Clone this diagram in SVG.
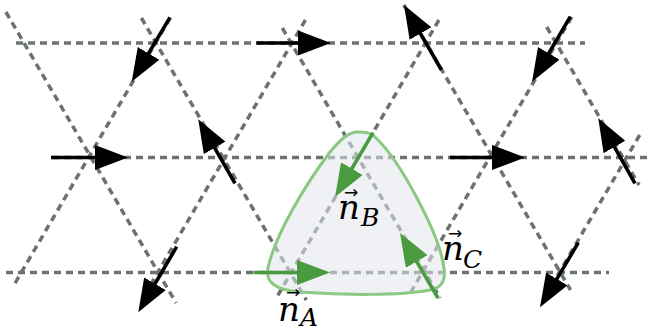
<svg xmlns="http://www.w3.org/2000/svg" width="652" height="331" viewBox="0 0 652 331">
<defs>
<style>
.dash{stroke:#6a7272;stroke-width:3.5;stroke-dasharray:7 5;fill:none}
.blk{stroke:#000;stroke-width:3.6;fill:none;marker-end:url(#hb)}
.grn{stroke:#4a9b40;stroke-width:3.6;fill:none;marker-end:url(#hg)}
.lbl{font-family:'DejaVu Serif','Liberation Serif',serif;font-style:italic;fill:#000}
.vec{font-family:'DejaVu Sans',sans-serif;font-style:normal;font-size:17px;text-anchor:middle}
</style>
<marker id="hb" markerUnits="userSpaceOnUse" viewBox="0 0 33 25" markerWidth="33" markerHeight="25" refX="13" refY="12.5" orient="auto"><path d="M0,0 L33,12.5 L0,25 Z" fill="#000"/></marker>
<marker id="hg" markerUnits="userSpaceOnUse" viewBox="0 0 33 25" markerWidth="33" markerHeight="25" refX="13" refY="12.5" orient="auto"><path d="M0,0 L33,12.5 L0,25 Z" fill="#4a9b40"/></marker>
</defs>
<rect width="652" height="331" fill="#fff"/>
<g id="lattice">
<line class="dash" x1="16" y1="43" x2="585" y2="43"/>
<line class="dash" x1="52" y1="157.5" x2="652" y2="157.5"/>
<line class="dash" x1="6" y1="272.5" x2="609" y2="272.5"/>
<line class="dash" x1="5.9" y1="12" x2="176.1" y2="303"/>
<line class="dash" x1="141.4" y1="18" x2="306.3" y2="300"/>
<line class="dash" x1="282.3" y1="28" x2="440.2" y2="298"/>
<line class="dash" x1="403.8" y1="5" x2="570.5" y2="290"/>
<line class="dash" x1="546.7" y1="27" x2="639.1" y2="185"/>
<line class="dash" x1="170.1" y1="18" x2="12.8" y2="287"/>
<line class="dash" x1="305.4" y1="20" x2="147.5" y2="290"/>
<line class="dash" x1="438.9" y1="20" x2="276.9" y2="297"/>
<line class="dash" x1="571.7" y1="17" x2="410.3" y2="293"/>
<line class="dash" x1="639.7" y1="135" x2="549" y2="290"/>
</g>
<g id="plaquette">
<path d="M358,132 C348,132 340,140 330,152 C305,185 275,235 268,268 C265,282 275,290 300,292 C340,295 400,296 430,290 C442,288 446,280 444,268 C440,235 400,160 375,137 C370,132 364,132 358,132 Z" fill="#e2e5eb" fill-opacity="0.55" stroke="#8bc883" stroke-width="3"/>
</g>
<g id="connectors">
<line class="blk" x1="170" y1="17.3" x2="141.9" y2="64.5"/>
<line class="blk" x1="256.5" y1="43" x2="311" y2="43"/>
<line class="blk" x1="51" y1="157.5" x2="108" y2="157.5"/>
<line class="blk" x1="235" y1="183.3" x2="208.2" y2="136.6"/>
<line class="blk" x1="176.7" y1="246.7" x2="148.4" y2="295"/>
<line class="blk" x1="441.5" y1="70" x2="414" y2="22.3"/>
<line class="blk" x1="570.3" y1="16.7" x2="542.2" y2="64.5"/>
<line class="blk" x1="635" y1="183.3" x2="608.1" y2="135.7"/>
<line class="blk" x1="578.3" y1="242.7" x2="550.2" y2="290.1"/>
<line class="blk" x1="450" y1="157.5" x2="505" y2="157.5"/>
<line class="grn" x1="253.5" y1="272.5" x2="310" y2="272.5"/>
<line class="grn" x1="373" y1="132.7" x2="345.2" y2="179.8"/>
<line class="grn" x1="438" y1="298" x2="410.1" y2="250.3"/>
</g>
<g id="label-nA">
<text class="lbl"><tspan x="278" y="321" font-size="34">n</tspan><tspan class="vec" x="293" y="298">→</tspan><tspan x="300" y="326" font-size="25">A</tspan></text>
</g>
<g id="label-nB">
<text class="lbl"><tspan x="338" y="219" font-size="34">n</tspan><tspan class="vec" x="351" y="198">→</tspan><tspan x="361" y="226" font-size="25">B</tspan></text>
</g>
<g id="label-nC">
<text class="lbl"><tspan x="442" y="260" font-size="34">n</tspan><tspan class="vec" x="455" y="239">→</tspan><tspan x="463" y="268" font-size="25">C</tspan></text>
</g>
</svg>
